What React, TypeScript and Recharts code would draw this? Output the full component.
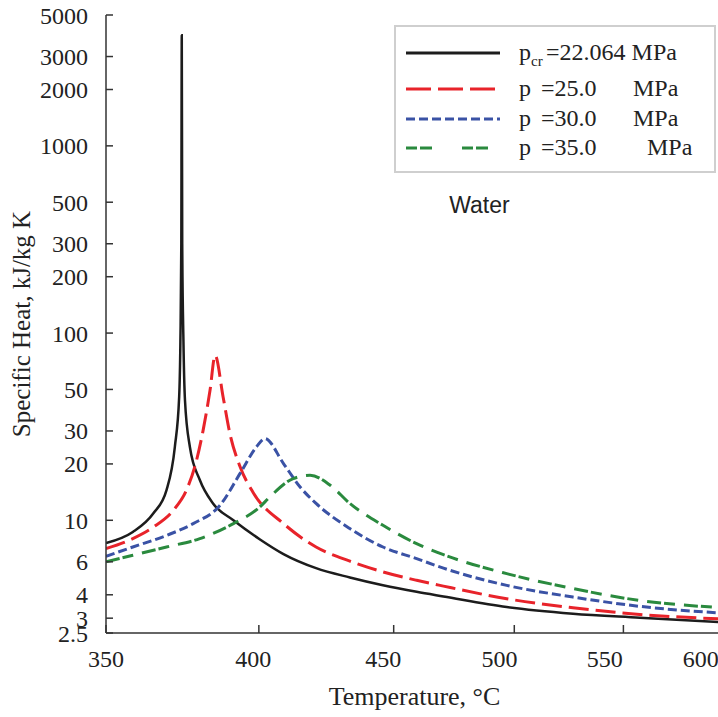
import React from 'react';
import { LineChart, Line, XAxis, YAxis, Legend, ReferenceDot, Label } from 'recharts';

// Temperatures (°C) and specific heats (kJ/kg K)
const blackT = [350, 358.3, 364.8, 369.0, 371.7, 373.1, 373.5, 373.8, 373.95, 374.1, 374.5, 375.0, 376.6, 379.9, 384.3, 391.2, 400.4, 408.7, 420.5, 433.1, 445.8, 459.1, 470, 496.7, 526.3, 557.9, 600];
const blackCp = [7.55, 8.66, 10.9, 14.5, 24.7, 45.6, 90, 300, 3900, 300, 90, 43.8, 24.7, 16.4, 12.3, 10.0, 7.9, 6.6, 5.55, 4.95, 4.5, 4.15, 3.92, 3.44, 3.17, 3.02, 2.85];

const redT = [350, 358.3, 364.8, 371.2, 375.5, 378.8, 381.0, 383.3, 385.0, 387.7, 390.0, 393.5, 398.1, 408.7, 420.5, 433.1, 445.8, 459.1, 470, 496.7, 526.3, 557.9, 600];
const redCp = [7.06, 7.98, 9.2, 11.3, 14.5, 20.9, 30.3, 49.5, 76, 45.6, 29.1, 19.3, 14.0, 9.6, 7.2, 6.05, 5.3, 4.78, 4.45, 3.81, 3.41, 3.14, 2.97];

const blueT = [350, 358.3, 369.0, 377.7, 386.6, 393.5, 399.2, 402.1, 408.7, 414.6, 420.5, 433.1, 445.8, 459.1, 470, 496.7, 526.3, 557.9, 600];
const blueCp = [6.42, 7.2, 8.3, 9.6, 12.0, 17.8, 24.7, 27.3, 20.1, 15.1, 12.3, 9.03, 7.2, 6.24, 5.55, 4.49, 3.89, 3.47, 3.19];

const greenT = [350, 358.3, 369.0, 379.9, 391.2, 400.4, 403.8, 412.2, 418.3, 425.7, 433.1, 445.8, 459.1, 470, 496.7, 526.3, 557.9, 600];
const greenCp = [6.0, 6.5, 7.2, 7.98, 9.6, 11.8, 13.3, 16.7, 17.4, 15.4, 12.3, 9.4, 7.5, 6.55, 5.19, 4.32, 3.73, 3.41];

const xTicks = [350, 400, 450, 500, 550, 600];
const yTicks = [2.5, 3, 4, 6, 10, 20, 30, 50, 100, 200, 300, 500, 1000, 2000, 3000, 5000];

const seriesNames = ['22.064', '25.0', '30.0', '35.0'];

const toData = (ts: number[], cps: number[]) => ts.map((T, i) => ({ T, cp: cps[i] }));
const blackData = toData(blackT, blackCp);
const redData = toData(redT, redCp);
const blueData = toData(blueT, blueCp);
const greenData = toData(greenT, greenCp);

const SERIF = '"Liberation Serif", "Times New Roman", serif';
const PLOT_LEFT = 106;

const COLORS = { black: '#1c1c1c', red: '#e8232a', blue: '#3a52a5', green: '#2a8a3e' };

const XTick = (props: any) => {
  const { x, y, payload } = props;
  const lx = PLOT_LEFT + (x - PLOT_LEFT) * 0.964;
  return (
    <text x={lx} y={y} dy="0.71em" textAnchor="middle" fontSize={24} fontFamily={SERIF} fill="#222">
      {payload.value}
    </text>
  );
};

const LegendBox = () => {
  const rows = [
    { color: COLORS.black, dash: undefined, y: 25 },
    { color: COLORS.red, dash: '25 7', y: 61 },
    { color: COLORS.blue, dash: '9 4', y: 91 },
    { color: COLORS.green, dash: '11 3 12 30', y: 120 },
  ];
  const unitX = [null, 239, 239, 253];
  return (
    <svg width={322} height={148} style={{ display: 'block' }}>
      <rect x={1} y={1} width={320} height={146} fill="#fff" stroke="#cfcfcf" strokeWidth={2} />
      {rows.map((r, i) => (
        <g key={i}>
          <line x1={12} x2={106} y1={r.y + 3} y2={r.y + 3} stroke={r.color} strokeWidth={3} strokeDasharray={r.dash} />
          <text x={125} y={r.y + 10} fontSize={24} fontFamily={SERIF} fill="#222">p</text>
          {i === 0 ? (
            <>
              <text x={137} y={r.y + 16} fontSize={15} fontFamily={SERIF} fill="#222">cr</text>
              <text x={152} y={r.y + 10} fontSize={24} fontFamily={SERIF} fill="#222">{'=' + seriesNames[i] + ' MPa'}</text>
            </>
          ) : (
            <>
              <text x={147} y={r.y + 10} fontSize={24} fontFamily={SERIF} fill="#222">{'=' + seriesNames[i]}</text>
              <text x={unitX[i] as number} y={r.y + 10} fontSize={24} fontFamily={SERIF} fill="#222">MPa</text>
            </>
          )}
        </g>
      ))}
    </svg>
  );
};

export default function App() {
  return (
    <div style={{ position: 'absolute', left: 0, top: 0, width: 718, height: 717, overflow: 'hidden', background: '#fff' }}>
      <LineChart width={735} height={717} margin={{ top: 15, right: 12, bottom: 0, left: 0 }}>
        <XAxis
          dataKey="T"
          type="number"
          scale="log"
          domain={[350, 600]}
          ticks={xTicks}
          interval={0}
          allowDataOverflow
          height={84}
          tickSize={-8}
          tickMargin={25}
          tick={<XTick />}
          axisLine={{ stroke: '#333', strokeWidth: 1.5 }}
          tickLine={{ stroke: '#333', strokeWidth: 1.5 }}
        >
          <Label value="Temperature, °C" position="insideBottom" offset={12} fontSize={26} fontFamily={SERIF} fill="#222" />
        </XAxis>
        <YAxis
          type="number"
          scale="log"
          domain={[2.5, 5000]}
          ticks={yTicks}
          interval={0}
          allowDataOverflow
          width={106}
          tickSize={-7}
          tickMargin={25}
          tick={{ fontSize: 24, fontFamily: SERIF, fill: '#222' }}
          axisLine={{ stroke: '#333', strokeWidth: 1.5 }}
          tickLine={{ stroke: '#333', strokeWidth: 1.5 }}
        >
          <Label
            content={(p: any) => {
              const vb = p.viewBox || {};
              const cx = (vb.x || 0) + 30;
              const cy = (vb.y || 0) + (vb.height || 0) / 2;
              return (
                <text x={cx} y={cy} transform={`rotate(-90 ${cx} ${cy})`} textAnchor="middle" fontSize={25} fontFamily={SERIF} fill="#222">
                  Specific Heat, kJ/kg K
                </text>
              );
            }}
          />
        </YAxis>
        <Line data={blackData} dataKey="cp" type="monotone" stroke={COLORS.black} strokeWidth={2.5} dot={false} isAnimationActive={false} />
        <Line data={redData} dataKey="cp" type="monotone" stroke={COLORS.red} strokeWidth={3} strokeDasharray="20 7" dot={false} isAnimationActive={false} />
        <Line data={blueData} dataKey="cp" type="monotone" stroke={COLORS.blue} strokeWidth={3} strokeDasharray="9 4" dot={false} isAnimationActive={false} />
        <Line data={greenData} dataKey="cp" type="monotone" stroke={COLORS.green} strokeWidth={3} strokeDasharray="14 3 11 9" dot={false} isAnimationActive={false} />
        <ReferenceDot x={485} y={483} r={0} fill="none" stroke="none" ifOverflow="visible">
          <Label value="Water" position="center" fontSize={23} fontFamily='"Liberation Sans", Arial, sans-serif' fill="#222" />
        </ReferenceDot>
        <Legend
          layout="vertical"
          align="center"
          verticalAlign="middle"
          content={() => <LegendBox />}
          wrapperStyle={{ left: 394, top: 25, width: 322, height: 148 }}
        />
      </LineChart>
    </div>
  );
}
